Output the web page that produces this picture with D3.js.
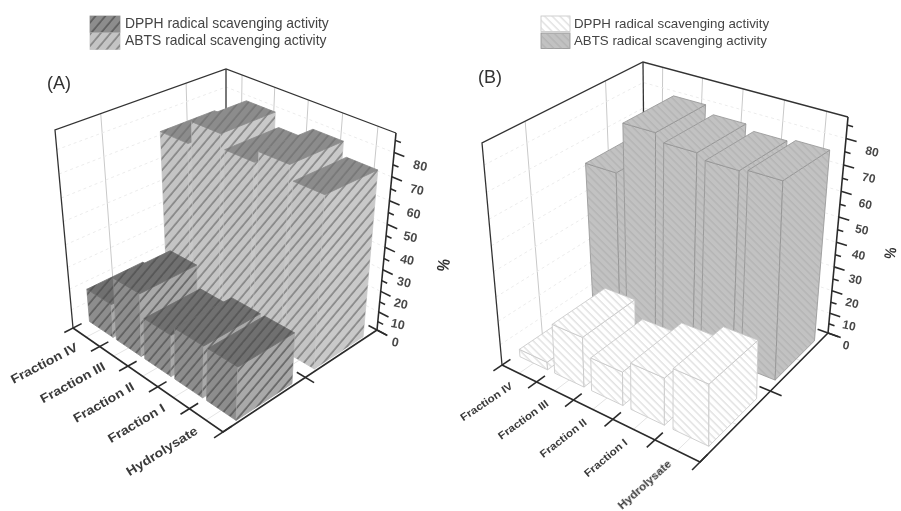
<!DOCTYPE html>
<html>
<head>
<meta charset="utf-8">
<script src="https://cdn.jsdelivr.net/npm/d3@7"></script>
<style>
  html, body { margin: 0; padding: 0; background: #fff; }
  svg { display: block; font-family: "Liberation Sans", Arial, sans-serif; }
</style>
</head>
<body>
<svg id="chart" width="901" height="511"></svg>
<script>
// data
const categories = ["Fraction IV", "Fraction III", "Fraction II", "Fraction I", "Hydrolysate"];
const seriesNames = ["DPPH radical scavenging activity", "ABTS radical scavenging activity"];
const valueTicks = [0, 10, 20, 30, 40, 50, 60, 70, 80];
const minorTicks = [5, 15, 25, 35, 45, 55, 65, 75, 85];
const dpphA = [17, 30, 20, 24, 24];
const abtsA = [72, 82, 76, 81, 75];
const dpphB = [4, 22, 15, 20, 25];
const abtsB = [62, 82, 79, 77, 78];

// layout of the two panels: corners of the 3d box in page pixels
const panelA = {
  name: "(A)", nameAt: [47, 89], nameSize: 18,
  dppH: dpphA, abts: abtsA,
  floor: [[73, 328], [223, 432], [377, 330], [226, 250]],
  ceil: [[55, 130], [230, 205], [396, 133], [226, 69]],
  legend: { x: 90, y: 16, w: 30, h: 16.5, gap: 0.5, tx: 125, size: 13.9 },
  padU: 0.12, padV: 0.3,
  angle: [-27.5, -32], labelOff: [-9, 10], labelSize: 12.5, labelStretch: 1.14,
  tickSize: 12.5,
  pct: [442, 265], pctSize: 14,
  hatch: { rotate: 40, step: 7.5, width: 1.25 },
  look: [
    { top: "#6f6f6f", left: "#8d8d8d", right: "#a9a9a9", ink: "#4d4d4d", edge: "none" },
    { top: "#8c8c8c", left: "#c4c4c4", right: "#c9c9c9", ink: "#6f6f6f", edge: "none" }
  ]
};
const panelB = {
  name: "(B)", nameAt: [478, 83], nameSize: 18,
  dppH: dpphB, abts: abtsB,
  floor: [[502, 365], [700, 462], [828, 333], [645, 268]],
  ceil: [[482, 143], [700, 208], [848, 117], [643, 62]],
  legend: { x: 541, y: 16, w: 29, h: 15.5, gap: 1.5, tx: 574, size: 13.3 },
  padU: 0.2, padV: 0.3,
  angle: [-34, -42], labelOff: [-7, 12], labelSize: 10.5, labelStretch: 1.12,
  tickSize: 12,
  pct: [889, 253], pctSize: 13,
  hatch: { rotate: -45, step: 5.4, width: 1 },
  look: [
    { top: "#ffffff", left: "#ffffff", right: "#ffffff", ink: "#d4d4d4", edge: "#c4c4c4" },
    { top: "#c2c2c2", left: "#c2c2c2", right: "#c2c2c2", ink: "#aeaeae", edge: "#909090" }
  ]
};

const svg = d3.select("#chart");
const defs = svg.append("defs");
defs.append("filter").attr("id", "soft").append("feGaussianBlur").attr("stdDeviation", 0.4);
const pathOf = d3.line();

// unit square to quad, so the floor and the ceiling keep their perspective
function quadMap(q) {
  const [[x0, y0], [x1, y1], [x2, y2], [x3, y3]] = q;
  const dx1 = x1 - x2, dx2 = x3 - x2, sx = x0 - x1 + x2 - x3;
  const dy1 = y1 - y2, dy2 = y3 - y2, sy = y0 - y1 + y2 - y3;
  const den = dx1 * dy2 - dx2 * dy1;
  const g = (sx * dy2 - dx2 * sy) / den, h = (dx1 * sy - sx * dy1) / den;
  const a = x1 - x0 + g * x1, b = x3 - x0 + h * x3;
  const d = y1 - y0 + g * y1, e = y3 - y0 + h * y3;
  return (u, v) => {
    const w = g * u + h * v + 1;
    return [(a * u + b * v + x0) / w, (d * u + e * v + y0) / w];
  };
}

function drawPanel(p, idx) {
  const g = svg.append("g").attr("filter", "url(#soft)");
  const floorAt = quadMap(p.floor), ceilAt = quadMap(p.ceil);
  const z = d3.scalePow().exponent(1.1).domain([0, 88]).range([0, 1]);
  const project = (u, v, val) => {
    const a = floorAt(u, v), b = ceilAt(u, v), t = z(val);
    return [a[0] + (b[0] - a[0]) * t, a[1] + (b[1] - a[1]) * t];
  };
  const x = d3.scaleBand().domain(categories).range([0, 1]).paddingInner(p.padU).paddingOuter(p.padU / 2);
  const y = d3.scaleBand().domain(seriesNames).range([0, 1]).paddingInner(p.padV).paddingOuter(p.padV * 0.6);
  const cellX = d3.scaleBand().domain(categories).range([0, 1]);
  const cellY = d3.scaleBand().domain(seriesNames).range([0, 1]);
  const top = z.domain()[1];

  // hatch fills
  p.look.forEach((l, i) => {
    const pat = defs.append("pattern")
      .attr("id", `hatch${idx}${i}`)
      .attr("patternUnits", "userSpaceOnUse")
      .attr("width", p.hatch.step).attr("height", p.hatch.step)
      .attr("patternTransform", `rotate(${p.hatch.rotate})`);
    pat.append("line").attr("x1", 1).attr("x2", 1).attr("y1", 0).attr("y2", p.hatch.step)
      .attr("stroke", l.ink).attr("stroke-width", p.hatch.width);
  });

  // faint wall grid
  const grid = g.append("g").attr("fill", "none").attr("stroke", "#c9c9c9").attr("stroke-width", 1);
  categories.forEach(c => {
    const u = cellX(c) + cellX.bandwidth() / 2;
    grid.append("path").attr("d", pathOf([project(u, 1, 0), project(u, 1, top)]));
    grid.append("path").attr("stroke", "#e4e4e4").attr("d", pathOf([project(u, 0, 0), project(u, 1, 0)]));
  });
  seriesNames.forEach(s => {
    const v = cellY(s) + cellY.bandwidth() / 2;
    grid.append("path").attr("d", pathOf([project(0, v, 0), project(0, v, top)]));
    grid.append("path").attr("stroke", "#e4e4e4").attr("d", pathOf([project(0, v, 0), project(1, v, 0)]));
  });
  valueTicks.filter(t => t > 0).forEach(t => {
    grid.append("path").attr("stroke", "#ececec").attr("stroke-dasharray", "3 3")
      .attr("d", pathOf([project(0, 0, t), project(0, 1, t), project(1, 1, t)]));
  });

  // box edges behind the bars
  const box = g.append("g").attr("fill", "none").attr("stroke", "#333").attr("stroke-width", 1.3);
  box.append("path").attr("d", pathOf([project(0, 0, 0), project(0, 0, top), project(0, 1, top), project(1, 1, top)]));
  box.append("path").attr("d", pathOf([project(0, 1, 0), project(0, 1, top)]));

  // bars: far row first, then left to right inside the row
  const rows = [p.abts, p.dppH];
  const rowNames = [seriesNames[1], seriesNames[0]];
  rows.forEach((vals, r) => {
    const s = rowNames[r];
    const look = p.look[1 - r];
    const hatch = `url(#hatch${idx}${1 - r})`;
    categories.forEach((c, i) => {
      const u0 = x(c), u1 = u0 + x.bandwidth();
      const v0 = y(s), v1 = v0 + y.bandwidth();
      const h = vals[i];
      const faces = [
        { fill: look.left, pts: [project(u0, v0, 0), project(u1, v0, 0), project(u1, v0, h), project(u0, v0, h)] },
        { fill: look.right, pts: [project(u1, v0, 0), project(u1, v1, 0), project(u1, v1, h), project(u1, v0, h)] },
        { fill: look.top, pts: [project(u0, v0, h), project(u1, v0, h), project(u1, v1, h), project(u0, v1, h)] }
      ];
      faces.forEach(f => {
        const d = pathOf(f.pts) + "Z";
        g.append("path").attr("d", d).attr("fill", f.fill).attr("stroke", look.edge === "none" ? f.fill : look.edge)
          .attr("stroke-width", 0.8);
        g.append("path").attr("d", d).attr("fill", hatch);
      });
    });
  });

  // axes
  const ax = g.append("g").attr("fill", "none").attr("stroke", "#2b2b2b").attr("stroke-width", 1.6);
  ax.append("path").attr("d", pathOf([project(0, 0, 0), project(1, 0, 0), project(1, 1, 0)]));
  ax.append("path").attr("d", pathOf([project(1, 1, 0), project(1, 1, top)]));
  // category ticks cross the edge
  d3.range(0, categories.length + 1).forEach(i => {
    const u = i / categories.length;
    ax.append("path").attr("d", pathOf([project(u, -0.05, 0), project(u, 0.05, 0)]));
  });
  ax.append("path").attr("d", pathOf([project(0.95, 0.5, 0), project(1.05, 0.5, 0)]));
  ax.append("path").attr("d", pathOf([project(0.95, 1, 0), project(1.06, 1, 0)]));
  const toRight = (val, len) => {
    const a = project(1, 1, val), b = project(0.9, 1, val);
    const n = Math.hypot(a[0] - b[0], a[1] - b[1]);
    return [a, [a[0] + (a[0] - b[0]) / n * len, a[1] + (a[1] - b[1]) / n * len]];
  };
  valueTicks.forEach(t => ax.append("path").attr("d", pathOf(toRight(t, 11))));
  minorTicks.forEach(t => ax.append("path").attr("d", pathOf(toRight(t, 6))));

  // value labels
  valueTicks.forEach(t => {
    const a = project(1, 1, t);
    g.append("text").text(t)
      .attr("transform", `translate(${a[0] + 18 + t * 0.1},${a[1] + 13 + t * 0.01}) rotate(12)`)
      .attr("text-anchor", "middle").attr("dominant-baseline", "middle")
      .attr("font-size", p.tickSize).attr("font-weight", "bold").attr("fill", "#333").attr("opacity", 0.9);
  });
  g.append("text").text("%")
    .attr("transform", `translate(${p.pct[0]},${p.pct[1]}) rotate(100) scale(1,1.2)`)
    .attr("text-anchor", "middle").attr("dominant-baseline", "middle")
    .attr("font-size", p.pctSize).attr("font-weight", "bold").attr("fill", "#333");

  // category labels
  const ang = d3.scaleLinear().domain([0, categories.length - 1]).range(p.angle);
  categories.forEach((c, i) => {
    const u = cellX(c) + cellX.bandwidth() / 2;
    const a = project(u, 0, 0);
    g.append("text").text(c)
      .attr("transform", `translate(${a[0] + p.labelOff[0]},${a[1] + p.labelOff[1]}) rotate(${ang(i)}) scale(${p.labelStretch},1)`)
      .attr("text-anchor", "end").attr("dominant-baseline", "middle")
      .attr("font-size", p.labelSize).attr("font-weight", "bold").attr("fill", "#3a3a3a");
  });

  // legend
  const lg = p.legend;
  seriesNames.forEach((s, i) => {
    const yy = lg.y + i * (lg.h + lg.gap);
    const look = p.look[i];
    g.append("rect").attr("x", lg.x).attr("y", yy).attr("width", lg.w).attr("height", lg.h)
      .attr("fill", look.left).attr("stroke", look.edge === "none" ? look.left : look.edge).attr("stroke-width", 0.8);
    g.append("rect").attr("x", lg.x).attr("y", yy).attr("width", lg.w).attr("height", lg.h)
      .attr("fill", `url(#hatch${idx}${i})`);
    g.append("text").text(s).attr("x", lg.tx).attr("y", yy + lg.h / 2 + 0.5)
      .attr("dominant-baseline", "middle").attr("font-size", lg.size).attr("fill", "#444");
  });

  g.append("text").text(p.name).attr("x", p.nameAt[0]).attr("y", p.nameAt[1])
    .attr("font-size", p.nameSize).attr("fill", "#333");
}

drawPanel(panelA, 0);
drawPanel(panelB, 1);
</script>
</body>
</html>
